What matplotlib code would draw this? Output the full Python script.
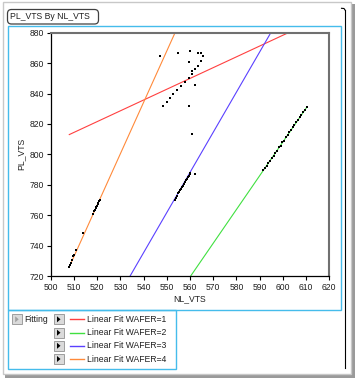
import numpy as np
import matplotlib
matplotlib.use('Agg')
from matplotlib import pyplot as plt
from matplotlib.patches import Rectangle, FancyBboxPatch, Polygon

plt.rcParams['font.family'] = ['Liberation Sans', 'DejaVu Sans']
FS = 6.2

# data: NL_VTS (x) and PL_VTS (y) per wafer
w1_x = [547.2, 554.7, 560.2, 563.5, 564.8, 565.5, 559.6, 564.9, 563.5, 562.3,
        561.0, 560.8, 559.7, 557.7, 556.0, 554.3, 562.2, 552.8, 551.4, 549.9,
        548.3, 559.6, 560.9]
w1_y = [864.6, 866.4, 867.7, 866.8, 866.4, 864.6, 861.0, 861.4, 858.0, 855.8,
        854.5, 852.7, 850.5, 847.9, 844.8, 842.2, 845.9, 840.0, 836.9, 834.3,
        832.1, 832.1, 813.6]

w2_x = [591.5, 592.3, 593.0, 593.8, 594.5, 595.3, 596.0, 596.8, 597.5, 598.3,
        599.0, 599.8, 600.5, 601.3, 602.0, 602.8, 603.5, 604.3, 605.0, 605.8,
        606.5, 607.3, 608.0, 608.8, 609.5, 610.3]
w2_y = [789.6, 791.2, 792.3, 794.6, 795.7, 797.9, 799.1, 801.2, 802.4, 804.7,
        805.6, 807.9, 809.0, 811.3, 812.4, 814.6, 815.7, 817.9, 819.0, 821.3,
        822.4, 824.5, 825.7, 827.9, 829.0, 831.2]

w3_x = [553.5, 554.0, 554.5, 555.0, 555.4, 555.8, 556.2, 556.6, 557.0, 557.4,
        557.8, 558.2, 558.6, 559.0, 559.4, 559.8, 560.2, 562.3]
w3_y = [770.0, 771.6, 772.9, 774.6, 775.4, 776.7, 777.4, 778.7, 779.4, 780.7,
        781.6, 782.9, 783.8, 785.1, 785.8, 787.2, 787.9, 787.0]

w4_x = [508.0, 508.2, 508.6, 509.2, 509.8, 510.2, 511.0, 514.0, 518.3, 518.7,
        519.0, 519.3, 519.6, 519.9, 520.2, 520.5, 520.8, 521.1]
w4_y = [726.0, 727.0, 728.5, 730.5, 733.0, 734.0, 737.0, 748.6, 761.0, 762.5,
        763.5, 764.5, 765.5, 766.3, 767.2, 768.2, 769.2, 770.0]

# linear fits (slope, value at x0)
fit_labels = ['Linear Fit WAFER=1', 'Linear Fit WAFER=2', 'Linear Fit WAFER=3', 'Linear Fit WAFER=4']
fit_slope = [0.71, 2.22, 2.64, 3.38]
fit_x0 = [508.0, 560.3, 534.2, 508.0]
fit_y0 = [813.0, 720.0, 720.0, 726.0]
fit_colors = ['#FF4040', '#40E040', '#5A40FF', '#FF8A3A']

W, H = 357, 381
fig = plt.figure(figsize=(W / 100, H / 100), dpi=100)

# decoration layer in pixel coords
deco = fig.add_axes([0, 0, 1, 1])
deco.set_xlim(0, W)
deco.set_ylim(H, 0)
deco.axis('off')
deco.set_zorder(0)

# outer frame + shadow
deco.add_patch(Rectangle((351, 4), 4, 374, facecolor='#9A9A9A', edgecolor='none'))
deco.add_patch(Rectangle((5, 374), 350, 4, facecolor='#9A9A9A', edgecolor='none'))
deco.add_patch(Rectangle((2.5, 1.5), 348, 372, facecolor='white', edgecolor='#C8C8C8', lw=1.0))
# right outline line
deco.plot([345, 345], [10, 368], color='black', lw=0.8)
deco.plot([341.5, 344, 345], [8.3, 8.5, 10], color='black', lw=0.8)

# title box
deco.add_patch(FancyBboxPatch((7.5, 9.5), 91, 14.5, boxstyle='round,pad=0,rounding_size=4',
                              facecolor='white', edgecolor='#404040', lw=0.9))
deco.text(10.5, 16.8, 'PL_VTS By NL_VTS', fontsize=FS, va='center', ha='left', color='#202020')

# cyan boxes
cyan = '#45BCEB'
deco.add_patch(Rectangle((8.3, 26), 332.7, 284, facecolor='white', edgecolor=cyan, lw=1.0))
deco.add_patch(Rectangle((8.3, 310), 167.7, 59, facecolor='none', edgecolor=cyan, lw=1.0))

# legend: Fitting button
def button(x, y, tri):
    deco.add_patch(Rectangle((x, y - 5), 10, 10, facecolor='#DADADA', edgecolor='#909090', lw=0.6))
    deco.add_patch(Polygon([(x + 3.5, y - 3), (x + 3.5, y + 3), (x + 7, y)], closed=True,
                           facecolor=tri, edgecolor='none'))

button(11.7, 319.3, '#A0A0A0')
deco.text(24, 319.3, 'Fitting', fontsize=FS, va='center', ha='left', color='#202020')
rows_y = [319.3, 332.7, 345.8, 359.0]
for lab, col, ry in zip(fit_labels, fit_colors, rows_y):
    button(53.5, ry, 'black')
    deco.plot([70, 83.5], [ry, ry], color=col, lw=1.0)
    deco.text(86.7, ry, lab, fontsize=FS, va='center', ha='left', color='#202020')

# main plot
ax = fig.add_axes([50.7 / W, 1 - 276 / H, (329.3 - 50.7) / W, (276 - 32.7) / H])
ax.set_zorder(1)
ax.set_facecolor('white')

all_x = w1_x + w2_x + w3_x + w4_x
xs = np.array([min(all_x), max(all_x)])
for k in range(4):
    ax.plot(xs, fit_y0[k] + fit_slope[k] * (xs - fit_x0[k]), color=fit_colors[k], lw=0.8, zorder=2)

for px, py in [(w1_x, w1_y), (w2_x, w2_y), (w3_x, w3_y), (w4_x, w4_y)]:
    ax.scatter(px, py, s=1.5, marker='s', color='black', linewidths=0, zorder=3)

ax.set_xlim(500, 620)
ax.set_ylim(720, 880)
ax.set_xticks(np.arange(500, 621, 10))
ax.set_yticks(np.arange(720, 881, 20))
ax.tick_params(direction='out', length=3, width=0.8, pad=2, labelsize=FS, colors='black',
               labelcolor='#202020')
for s in ['left', 'bottom']:
    ax.spines[s].set_color('black')
    ax.spines[s].set_linewidth(0.9)
for s in ['top', 'right']:
    ax.spines[s].set_color('#707070')
    ax.spines[s].set_linewidth(1.5)
ax.set_xlabel('NL_VTS', fontsize=FS, labelpad=1.5, color='#202020')
ax.set_ylabel('PL_VTS', fontsize=FS, labelpad=3, color='#202020')

fig.savefig('out.png', dpi=100)
